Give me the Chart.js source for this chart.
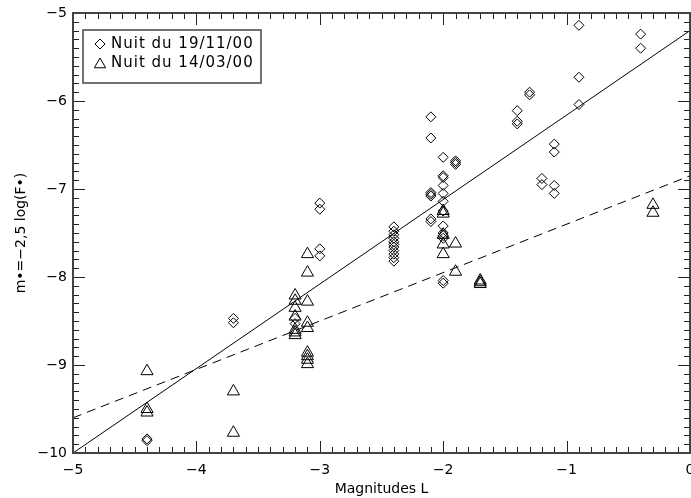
<!DOCTYPE html>
<html>
<head>
<meta charset="utf-8">
<script src="https://cdn.jsdelivr.net/npm/chart.js@4.4.0/dist/chart.umd.min.js"></script>
<style>
  html, body { margin: 0; padding: 0; background: #fff; }
  #wrap { width: 691px; height: 498px; }
</style>
</head>
<body>
<div id="wrap"><canvas id="magChart" width="691" height="498"></canvas></div>
<script>
// Nuit du 19/11/00 (diamonds)
const nov19X = [-4.4, -4.4, -3.7, -3.7, -3.2, -3.2, -3.0, -3.0, -3.0, -3.0,
  -2.4, -2.4, -2.4, -2.4, -2.4, -2.4, -2.4, -2.4, -2.4, -2.4, -2.4,
  -2.1, -2.1, -2.1, -2.1, -2.1, -2.1, -2.1,
  -2.0, -2.0, -2.0, -2.0, -2.0, -2.0, -2.0, -2.0, -2.0, -2.0, -2.0, -2.0, -2.0,
  -1.9, -1.9, -1.9, -1.4, -1.4, -1.4, -1.3, -1.3, -1.2, -1.2,
  -1.1, -1.1, -1.1, -1.1, -0.9, -0.9, -0.9, -0.4, -0.4];
const nov19Y = [-9.84, -9.86, -8.47, -8.52, -8.47, -8.53, -7.16, -7.23, -7.68, -7.76,
  -7.43, -7.48, -7.52, -7.56, -7.60, -7.63, -7.66, -7.70, -7.74, -7.78, -7.82,
  -6.18, -6.42, -7.04, -7.06, -7.08, -7.34, -7.37,
  -6.64, -6.85, -6.87, -6.96, -7.05, -7.14, -7.25, -7.42, -7.50, -7.53, -7.56, -8.04, -8.07,
  -6.68, -6.70, -6.72, -6.11, -6.23, -6.26, -5.90, -5.93, -6.88, -6.95,
  -6.49, -6.58, -6.96, -7.05, -5.14, -5.73, -6.04, -5.24, -5.40];

// Nuit du 14/03/00 (triangles)
const mar14X = [-4.4, -4.4, -4.4, -3.7, -3.7,
  -3.2, -3.2, -3.2, -3.2, -3.2, -3.2, -3.2,
  -3.1, -3.1, -3.1, -3.1, -3.1, -3.1, -3.1, -3.1, -3.1,
  -2.0, -2.0, -2.0, -2.0, -2.0, -1.9, -1.9, -1.7, -1.7, -1.7, -0.3, -0.3];
const mar14Y = [-9.07, -9.50, -9.54, -9.30, -9.77,
  -8.21, -8.27, -8.35, -8.45, -8.60, -8.63, -8.66,
  -7.74, -7.95, -8.28, -8.52, -8.58, -8.86, -8.90, -8.94, -8.99,
  -7.25, -7.28, -7.52, -7.63, -7.74, -7.62, -7.94, -8.04, -8.06, -8.08, -7.18, -7.27];

// fitted lines
const fitX = [-5, 0];
const fitSolidY = [-10, -5.2];
const fitDashY = [-9.6, -6.85];

const seriesLabels = ['Nuit du 19/11/00', 'Nuit du 14/03/00'];
const xTicks = [-5, -4, -3, -2, -1, 0];
const yTicks = [-10, -9, -8, -7, -6, -5];

const toPoints = (xs, ys) => xs.map((x, i) => ({ x: x, y: ys[i] }));
const minusSign = v => String(v).replace('-', '\u2212');

Chart.defaults.font.family = 'DejaVu Sans';
Chart.defaults.font.size = 14;
Chart.defaults.color = '#000';

// frame with inward ticks on all four sides
const frameTicks = {
  id: 'frameTicks',
  afterDatasetsDraw(chart) {
    const { ctx, chartArea: a, scales } = chart;
    const xs = scales.x, ys = scales.y;
    ctx.save();
    ctx.strokeStyle = '#222';
    ctx.lineWidth = 1;
    ctx.beginPath();
    for (let i = 0; i <= 50; i++) {
      const v = xTicks[0] + i * 0.1;
      const px = Math.round(xs.getPixelForValue(v)) + 0.5;
      const len = i % 10 === 0 ? 12 : 6;
      ctx.moveTo(px, a.bottom); ctx.lineTo(px, a.bottom - len);
      ctx.moveTo(px, a.top); ctx.lineTo(px, a.top + len);
    }
    for (let i = 0; i <= 50; i++) {
      const v = yTicks[0] + i * 0.1;
      const py = Math.round(ys.getPixelForValue(v)) + 0.5;
      const len = i % 10 === 0 ? 12 : 6;
      ctx.moveTo(a.left, py); ctx.lineTo(a.left + len, py);
      ctx.moveTo(a.right, py); ctx.lineTo(a.right - len, py);
    }
    ctx.stroke();
    ctx.strokeStyle = '#444';
    ctx.lineWidth = 2;
    ctx.strokeRect(a.left, a.top, a.right - a.left, a.bottom - a.top);

    // last x label sits on the canvas edge (cut off like the original)
    const last = xTicks[xTicks.length - 1];
    ctx.fillStyle = '#000';
    ctx.font = '14px "DejaVu Sans"';
    ctx.textAlign = 'center';
    ctx.textBaseline = 'middle';
    ctx.fillText(minusSign(last), xs.getPixelForValue(last), 470);
    ctx.restore();
  }
};

// boxed legend inside the plot
const boxLegend = {
  id: 'boxLegend',
  afterDraw(chart) {
    const ctx = chart.ctx;
    const styles = ['rectRot', 'triangle'];
    const radii = [5, 6.5];
    ctx.save();
    ctx.fillStyle = '#fff';
    ctx.fillRect(83, 30, 178, 53);
    ctx.strokeStyle = '#444';
    ctx.lineWidth = 1.5;
    ctx.strokeRect(83, 30, 178, 53);
    ctx.font = '15px "DejaVu Sans"';
    if ('letterSpacing' in ctx) ctx.letterSpacing = '1px';
    ctx.textBaseline = 'middle';
    seriesLabels.forEach((label, i) => {
      const y = 44 + i * 19;
      ctx.strokeStyle = '#000';
      ctx.lineWidth = 1;
      ctx.fillStyle = 'rgba(0,0,0,0)';
      Chart.helpers.drawPoint(ctx, { pointStyle: styles[i], radius: radii[i], borderWidth: 1, rotation: 0 }, 100, y + (i ? 1.5 : 0));
      ctx.fillStyle = '#000';
      ctx.fillText(label, 111, y);
    });
    ctx.restore();
  }
};

new Chart(document.getElementById('magChart').getContext('2d'), {
  type: 'scatter',
  data: {
    datasets: [
      {
        label: seriesLabels[0],
        data: toPoints(nov19X, nov19Y),
        pointStyle: 'rectRot',
        pointRadius: 5,
        borderColor: '#000',
        backgroundColor: 'rgba(0,0,0,0)',
        borderWidth: 1,
      },
      {
        label: seriesLabels[1],
        data: toPoints(mar14X, mar14Y),
        pointStyle: 'triangle',
        pointRadius: 7,
        borderColor: '#000',
        backgroundColor: 'rgba(0,0,0,0)',
        borderWidth: 1,
      },
      {
        type: 'line',
        label: 'fit 19/11',
        data: toPoints(fitX, fitSolidY),
        borderColor: '#000',
        borderWidth: 1,
        pointRadius: 0,
        fill: false,
      },
      {
        type: 'line',
        label: 'fit 14/03',
        data: toPoints(fitX, fitDashY),
        borderColor: '#000',
        borderWidth: 1,
        borderDash: [9, 6],
        pointRadius: 0,
        fill: false,
      },
    ],
  },
  options: {
    responsive: false,
    animation: false,
    layout: { autoPadding: false, padding: { top: 13, right: 1, left: 0, bottom: 0 } },
    plugins: {
      legend: { display: false },
      tooltip: { enabled: false },
    },
    scales: {
      x: {
        type: 'linear',
        min: -5,
        max: 0,
        grid: { display: false, drawTicks: false },
        border: { display: false },
        ticks: { stepSize: 1, padding: 9, callback: v => (v === 0 ? '' : minusSign(v)) },
        title: { display: true, text: 'Magnitudes L', padding: { top: 0, bottom: 0 } },
        afterFit(scale) { scale.height = 45; scale.paddingLeft = 0; scale.paddingRight = 0; },
      },
      y: {
        type: 'linear',
        min: -10,
        max: -5,
        grid: { display: false, drawTicks: false },
        border: { display: false },
        ticks: { stepSize: 1, padding: 6, callback: v => minusSign(v) },
        title: { display: true, text: 'm\u2022=\u22122,5 log(F\u2022)', padding: { top: 13, bottom: 0 } },
        afterFit(scale) { scale.width = 73; scale.paddingTop = 0; scale.paddingBottom = 0; },
      },
    },
  },
  plugins: [frameTicks, boxLegend],
});
</script>
</body>
</html>
